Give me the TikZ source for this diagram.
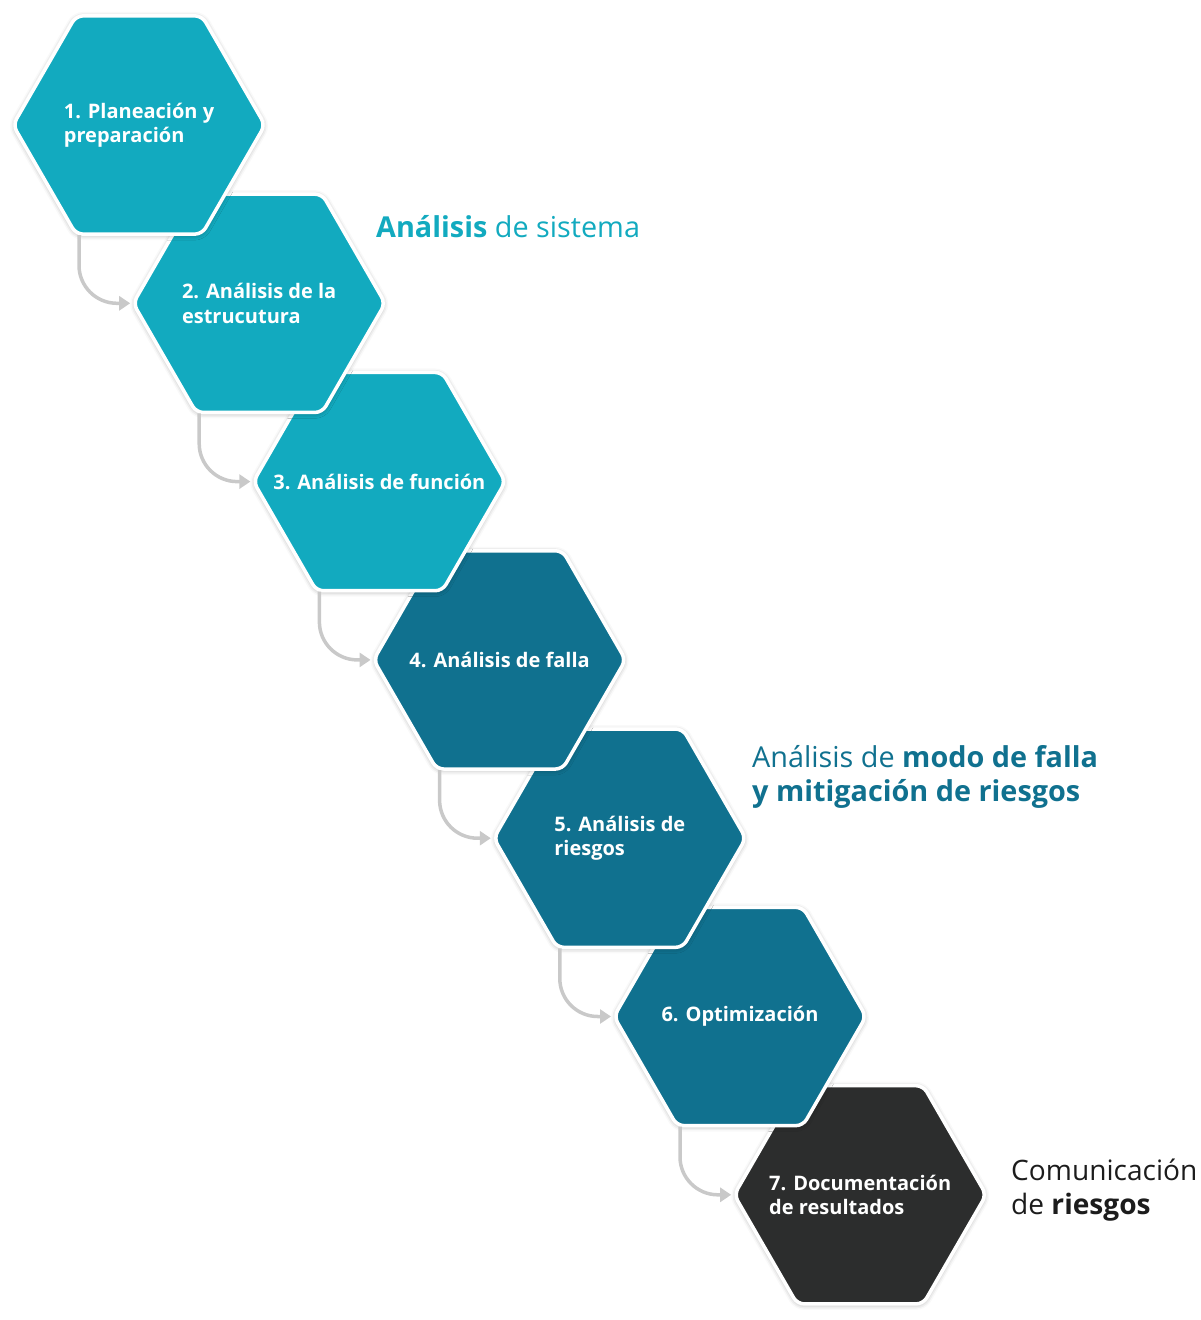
\documentclass[tikz,border=0pt]{standalone}
\usepackage{fontspec}
\setmainfont{Open Sans}
\usetikzlibrary{shapes.geometric,arrows.meta,shadows.blur}
\definecolor{cteal}{HTML}{12AABF}
\definecolor{cdeep}{HTML}{10718F}
\definecolor{cdark}{HTML}{2C2D2D}
\definecolor{carrow}{HTML}{C9C9C9}
\definecolor{cblack}{HTML}{1C1C1C}
\begin{document}
\begin{tikzpicture}[x=1pt,y=-1pt,
  hexbox/.style={regular polygon, regular polygon sides=6, minimum size=252pt,
    inner sep=0pt, outer sep=0pt, draw=white, line width=3.5pt, rounded corners=7pt,
    blur shadow={shadow xshift=0pt, shadow yshift=-1pt, shadow blur radius=5pt, shadow opacity=35}},
  hextext/.style={align=left, text=white, font=\bfseries\fontsize{20}{24.5}\selectfont, inner sep=0pt},
  flow/.style={draw=carrow, line width=3.5pt, rounded corners=38pt, -{Triangle[length=11pt,width=14pt]}},
  side/.style={anchor=west, align=left, inner sep=0pt, font=\fontsize{28.8}{34}\selectfont}
]
\useasboundingbox (0,0) rectangle (1200,1320);
% hexagons (later ones first so earlier ones sit on top)
\node[hexbox, fill=cdark] (h7) at (860.2,1194.8) {};
\node[hexbox, fill=cdeep] (h6) at (740,1016.5) {};
\node[hexbox, fill=cdeep] (h5) at (619.8,838.2) {};
\node[hexbox, fill=cdeep] (h4) at (499.6,659.9) {};
\node[hexbox, fill=cteal] (h3) at (379.4,481.6) {};
\node[hexbox, fill=cteal] (h2) at (259.2,303.3) {};
\node[hexbox, fill=cteal] (h1) at (139,125) {};
% texts
\node[hextext] (t1) at (h1) {1. Planeación y\\preparación};
\node[hextext] (t2) at (h2) {2. Análisis de la\\estrucutura};
\node[hextext] (t3) at (h3) {3. Análisis de función};
\node[hextext] (t4) at (h4) {4. Análisis de falla};
\node[hextext] (t5) at (h5) {5. Análisis de\\riesgos};
\node[hextext] (t6) at (h6) {6. Optimización};
\node[hextext] (t7) at (h7) {7. Documentación\\de resultados};
% connectors
\draw[flow] ([xshift=-60pt,yshift=-1pt]h1.south) |- ([xshift=-3pt]h2.west);
\draw[flow] ([xshift=-60pt,yshift=-1pt]h2.south) |- ([xshift=-3pt]h3.west);
\draw[flow] ([xshift=-60pt,yshift=-1pt]h3.south) |- ([xshift=-3pt]h4.west);
\draw[flow] ([xshift=-60pt,yshift=-1pt]h4.south) |- ([xshift=-3pt]h5.west);
\draw[flow] ([xshift=-60pt,yshift=-1pt]h5.south) |- ([xshift=-3pt]h6.west);
\draw[flow] ([xshift=-60pt,yshift=-1pt]h6.south) |- ([xshift=-3pt]h7.west);
% side labels
\node[side, text=cteal] (l1) at (376,227) {\textbf{Análisis} de sistema};
\node[side, text=cdeep] (l2) at (752,777) {Análisis de \textbf{modo de falla}\\\textbf{y mitigación de riesgos}};
\node[side, text=cblack, font=\fontsize{28.1}{34}\selectfont] (l3) at (1011,1190) {Comunicación\\de \textbf{riesgos}};
\end{tikzpicture}
\end{document}
